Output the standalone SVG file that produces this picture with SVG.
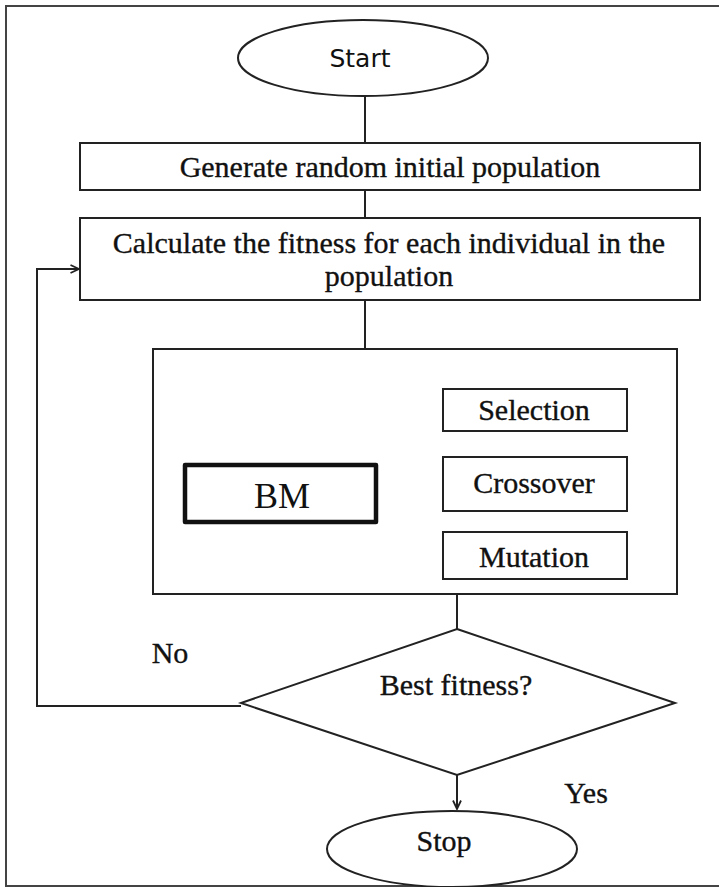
<svg xmlns="http://www.w3.org/2000/svg" width="719" height="887" viewBox="0 0 719 887">
<defs>
<style>
.box{fill:#fff;stroke:#222;stroke-width:2}
.thick{fill:#fff;stroke:#111;stroke-width:4.5;stroke-linejoin:round}
.ln{fill:none;stroke:#222;stroke-width:2}
.t{font-family:"Liberation Serif","Times New Roman",serif;font-size:30px;fill:#111;stroke:#111;stroke-width:0.35;text-anchor:middle}
.s{font-family:"DejaVu Sans","Noto Sans",sans-serif;font-size:25px;fill:#111;text-anchor:middle}
</style>
<marker id="ar" viewBox="0 0 10 10" refX="9.5" refY="5" markerWidth="10" markerHeight="10" markerUnits="userSpaceOnUse" orient="auto">
<path d="M1,1 L9.5,5 L1,9" fill="none" stroke="#222" stroke-width="1.8"/>
</marker>
</defs>
<rect width="719" height="887" fill="#fff"/>
<rect x="6" y="6" width="720" height="880" fill="none" stroke="#444" stroke-width="2"/>
<g id="connectors">
<line class="ln" x1="365" y1="96" x2="365" y2="143"/>
<line class="ln" x1="365" y1="190" x2="365" y2="218"/>
<line class="ln" x1="365" y1="300" x2="365" y2="349"/>
<line class="ln" x1="534" y1="431" x2="534" y2="457"/>
<line class="ln" x1="534" y1="511" x2="534" y2="532"/>
<line class="ln" x1="379" y1="497" x2="442" y2="497" marker-end="url(#ar)"/>
<line class="ln" x1="457" y1="594" x2="457" y2="629"/>
<polyline class="ln" points="241,706 37,706 37,269 79,269" marker-end="url(#ar)"/>
<line class="ln" x1="457" y1="775" x2="457" y2="809" marker-end="url(#ar)"/>
</g>
<g id="start">
<ellipse class="box" cx="363" cy="58" rx="125" ry="38"/>
<text class="s" x="360" y="67">Start</text>
</g>
<g id="generate">
<rect class="box" x="80" y="143" width="620" height="47"/>
<text class="t" x="390" y="177">Generate random initial population</text>
</g>
<g id="calculate">
<rect class="box" x="80" y="218" width="620" height="82"/>
<text class="t" x="389" y="253">Calculate the fitness for each individual in the</text>
<text class="t" x="389" y="286">population</text>
</g>
<g id="ga-box">
<rect class="box" x="153" y="349" width="524" height="245"/>
</g>
<g id="selection">
<rect class="box" x="443" y="389" width="184" height="42"/>
<text class="t" x="534" y="420">Selection</text>
</g>
<g id="crossover">
<rect class="box" x="443" y="457" width="184" height="54"/>
<text class="t" x="534" y="493">Crossover</text>
</g>
<g id="mutation">
<rect class="box" x="443" y="532" width="184" height="47"/>
<text class="t" x="534" y="567">Mutation</text>
</g>
<g id="bm">
<rect class="thick" x="185" y="465" width="191" height="57"/>
<text class="t" x="282" y="508" style="font-size:36px;stroke-width:0">BM</text>
</g>
<g id="decision">
<polygon class="box" points="457,629 675,703 457,775 241,703"/>
<text class="t" x="456" y="695">Best fitness?</text>
</g>
<g id="labels">
<text class="t" x="170" y="663">No</text>
<text class="t" x="586" y="803">Yes</text>
</g>
<g id="stop">
<ellipse class="box" cx="452" cy="849" rx="125" ry="38"/>
<text class="t" x="444" y="851">Stop</text>
</g>
</svg>
